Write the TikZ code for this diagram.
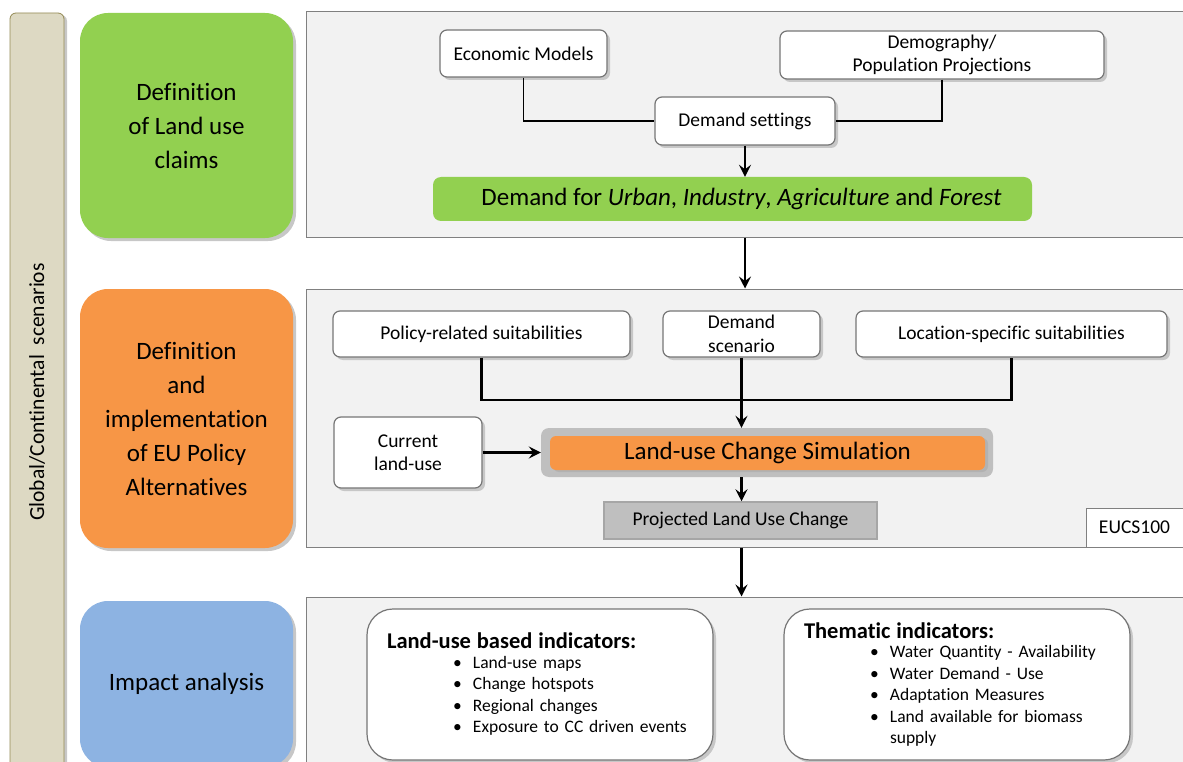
\documentclass[tikz,border=0pt]{standalone}
\usepackage{fontspec}
\setmainfont{Carlito}[Ligatures=NoCommon]
\definecolor{claimgreen}{RGB}{146, 208, 80}
\definecolor{policyorange}{RGB}{247, 150, 70}
\definecolor{impactblue}{RGB}{141, 179, 226}
\definecolor{scenariotan}{RGB}{221, 217, 195}
\definecolor{scenarioline}{RGB}{148, 138, 84}
\definecolor{panelfill}{RGB}{242, 242, 242}
\definecolor{panelline}{RGB}{128, 128, 128}
\definecolor{boxline}{RGB}{118, 118, 118}
\definecolor{simgrey}{RGB}{191, 191, 191}
\usepackage{tikz}
\usetikzlibrary{arrows.meta,shadows}

\tikzset{
  stage/.style={
    rounded corners = 28pt,
    minimum width   = 213pt,
    inner sep       = 0pt,
    align           = center,
    font            = \fontsize{25}{34}\selectfont,
    drop shadow     = {shadow xshift=3pt, shadow yshift=-3pt, fill=black!22, opacity=1}
  },
  panel/.style={
    draw        = panelline,
    fill        = panelfill,
    line width  = 1pt,
    minimum width = 884pt,
    inner sep   = 0pt
  },
  inbox/.style={
    draw            = boxline,
    fill            = white,
    line width      = 1.2pt,
    rounded corners = 7pt,
    inner sep       = 0pt,
    align           = center,
    font            = \fontsize{19.5}{23.5}\selectfont,
    drop shadow     = {shadow xshift=3pt, shadow yshift=-3pt, fill=black!22, opacity=1}
  },
  indbox/.style={
    inbox,
    rounded corners = 26pt,
    minimum width   = 346pt,
    minimum height  = 151pt,
    text width      = 306pt,
    align           = left,
    font            = \fontsize{17.5}{21.5}\selectfont
  },
  arr/.style={-{Stealth[length=12pt, width=12pt, inset=4.5pt]}, line width=2.4pt},
  link/.style={line width=1.3pt},
  heavylink/.style={line width=2.4pt}
}

\newcommand{\bulletitem}[1]{\makebox[20pt][l]{\textbullet}#1}

\begin{document}
\begin{tikzpicture}[x=1pt, y=-1pt]
  \useasboundingbox (0,0) rectangle (1183,762);
  \clip (0,0) rectangle (1183,762);

  % scenario bar on the left
  \node[
    draw            = scenarioline,
    fill            = scenariotan,
    line width      = 0.8pt,
    rounded corners = 6pt,
    rotate          = 90,
    minimum width   = 758pt,
    minimum height  = 54pt,
    font            = \fontsize{21.5}{25}\selectfont,
    drop shadow     = {shadow xshift=3pt, shadow yshift=-2pt, fill=black!22, opacity=1}
  ] (scen) at (37,392) {Global/Continental\ \ scenarios};

  % stages
  \node[stage, fill=claimgreen, minimum height=225pt] (claims) at (186.5,125.5)
    {Definition\\of Land use\\claims};
  \node[stage, fill=policyorange, minimum height=259pt] (policy) at (186.5,418.5)
    {Definition\\and\\implementation\\of EU Policy\\Alternatives};
  \node[stage, fill=impactblue, minimum height=166pt] (impact) at (186.5,684)
    {Impact analysis};

  % panels
  \node[panel, minimum height=225pt] (toppanel) at (748,124.5) {};
  \node[panel, minimum height=258pt] (midpanel) at (748,418) {};
  \node[panel, minimum height=178pt] (botpanel) at (748,686) {};

  % demand claims
  \node[inbox, minimum width=167pt, minimum height=47pt] (econ) at (523.5,53.5) {Economic Models};
  \node[inbox, minimum width=324pt, minimum height=48pt] (demo) at (942,55) {Demography/\\Population Projections};
  \node[inbox, minimum width=180pt, minimum height=48pt] (dset) at (745,121) {Demand settings};
  \node[
    fill            = claimgreen,
    rounded corners = 8pt,
    minimum width   = 599pt,
    minimum height  = 44pt,
    inner sep       = 0pt,
    font            = \fontsize{25}{29}\selectfont
  ] (dbar) at (732.5,199) {\hspace*{18pt}Demand for \textit{Urban}, \textit{Industry}, \textit{Agriculture} and \textit{Forest}};

  \draw[link] (econ.south) |- (dset.west);
  \draw[link] (demo.south) |- (dset.east);
  \draw[arr] (dset.south) -- (dset.south |- dbar.north);

  \draw[arr] (dset.south |- toppanel.south) -- (dset.south |- midpanel.north);

  % policy alternatives
  \node[inbox, minimum width=297pt, minimum height=46pt] (polsuit) at (481.5,334) {Policy-related suitabilities};
  \node[inbox, minimum width=157pt, minimum height=46pt] (dscen) at (741.5,334) {Demand\\scenario};
  \node[inbox, minimum width=311pt, minimum height=46pt] (locsuit) at (1011.5,334) {Location-specific suitabilities};
  \node[inbox, minimum width=148pt, minimum height=71pt] (curlu) at (408,452.5) {Current\\land-use};

  \node[
    fill            = simgrey,
    rounded corners = 8pt,
    minimum width   = 452pt,
    minimum height  = 49pt,
    inner sep       = 0pt
  ] (simout) at (767,452.5) {};
  \node[
    fill            = policyorange,
    rounded corners = 6pt,
    minimum width   = 435pt,
    minimum height  = 34pt,
    inner sep       = 0pt,
    font            = \fontsize{25}{29}\selectfont,
    drop shadow     = {shadow xshift=3pt, shadow yshift=-2pt, fill=black!30, opacity=1}
  ] (sim) at (767.5,453) {Land-use Change Simulation};

  \node[
    draw           = black!35,
    fill           = simgrey,
    line width     = 1.5pt,
    minimum width  = 273pt,
    minimum height = 37pt,
    inner sep      = 0pt,
    font           = \fontsize{19.5}{23}\selectfont
  ] (proj) at (740.5,520.5) {Projected Land Use Change};

  \node[
    draw           = panelline,
    fill           = white,
    line width     = 0.8pt,
    minimum width  = 97pt,
    minimum height = 39pt,
    inner sep      = 0pt,
    font           = \fontsize{19.5}{23}\selectfont
  ] (eucs) at (1134.5,527.5) {EUCS100};

  \coordinate (suitjoin) at (741,400);
  \draw[heavylink] (polsuit.south) |- (suitjoin) -| (locsuit.south);
  \draw[arr] (dscen.south) -- (dscen.south |- simout.north);
  \draw[arr] (curlu.east) -- (curlu.east -| simout.west);
  \draw[arr] (dscen.south |- simout.south) -- (dscen.south |- proj.north);

  \draw[arr] (dscen.south |- midpanel.south) -- (dscen.south |- botpanel.north);

  % impact indicators
  \node[indbox] (luind) at (540,684.5) {%
    {\fontsize{22.5}{26}\selectfont\bfseries Land-use based indicators:}\\[-2pt]
    \hspace*{66pt}\bulletitem{Land-use maps}\\
    \hspace*{66pt}\bulletitem{Change hotspots}\\
    \hspace*{66pt}\bulletitem{Regional changes}\\
    \hspace*{66pt}\bulletitem{Exposure to CC driven events}};
  \node[indbox] (thind) at (957,684.5) {%
    {\fontsize{22.5}{26}\selectfont\bfseries Thematic indicators:}\\[-2pt]
    \hspace*{66pt}\bulletitem{Water Quantity - Availability}\\
    \hspace*{66pt}\bulletitem{Water Demand - Use}\\
    \hspace*{66pt}\bulletitem{Adaptation Measures}\\
    \hspace*{66pt}\bulletitem{Land available for biomass}\\
    \hspace*{86pt}supply};
\end{tikzpicture}
\end{document}
